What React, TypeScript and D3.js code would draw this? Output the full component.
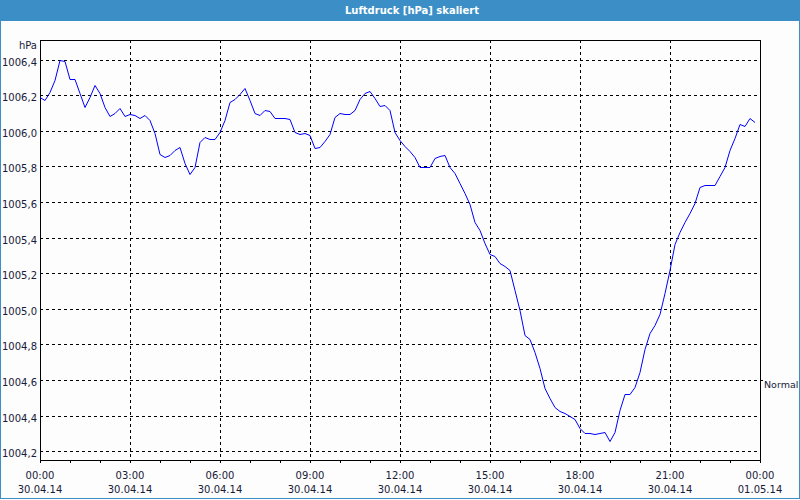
import React from "react";
import * as d3 from "d3";

const TITLE = "Luftdruck [hPa] skaliert";
const UNIT = "hPa";
const START = new Date(2014, 3, 30, 0, 0);
const END = new Date(2014, 4, 1, 0, 0);
const STEP_MIN = 10;
const NORMAL_VALUE = 1004.6;
const NORMAL_LABEL = "Normal";
const Y_TICKS = [1004.2, 1004.4, 1004.6, 1004.8, 1005.0, 1005.2, 1005.4, 1005.6, 1005.8, 1006.0, 1006.2, 1006.4];
const PRESSURE = [
  1006.191, 1006.173, 1006.220, 1006.285, 1006.398, 1006.394, 1006.291, 1006.289, 1006.211, 1006.134,
  1006.191, 1006.257, 1006.211, 1006.135, 1006.085, 1006.098, 1006.130, 1006.083, 1006.094, 1006.087,
  1006.073, 1006.089, 1006.060, 1005.987, 1005.869, 1005.851, 1005.864, 1005.892, 1005.907, 1005.817,
  1005.757, 1005.796, 1005.937, 1005.967, 1005.952, 1005.952, 1005.995, 1006.060, 1006.162, 1006.177,
  1006.205, 1006.243, 1006.173, 1006.100, 1006.086, 1006.117, 1006.111, 1006.072, 1006.072, 1006.070,
  1006.068, 1005.991, 1005.982, 1005.989, 1005.976, 1005.905, 1005.910, 1005.944, 1005.982, 1006.079,
  1006.098, 1006.094, 1006.094, 1006.117, 1006.177, 1006.214, 1006.225, 1006.182, 1006.139, 1006.143,
  1006.117, 1005.995, 1005.948, 1005.917, 1005.886, 1005.851, 1005.798, 1005.795, 1005.795, 1005.847,
  1005.857, 1005.862, 1005.798, 1005.761, 1005.705, 1005.649, 1005.589, 1005.489, 1005.442, 1005.368,
  1005.310, 1005.295, 1005.259, 1005.240, 1005.218, 1005.105, 1004.993, 1004.852, 1004.828, 1004.759,
  1004.665, 1004.553, 1004.497, 1004.446, 1004.427, 1004.412, 1004.397, 1004.382, 1004.328, 1004.300,
  1004.302, 1004.298, 1004.303, 1004.307, 1004.257, 1004.309, 1004.431, 1004.519, 1004.519, 1004.558,
  1004.644, 1004.771, 1004.861, 1004.911, 1004.970, 1005.091, 1005.218, 1005.364, 1005.433, 1005.489,
  1005.536, 1005.592, 1005.682, 1005.695, 1005.693, 1005.693, 1005.746, 1005.798, 1005.892, 1005.958,
  1006.038, 1006.027, 1006.070, 1006.048,
];

const W = 800;
const H = 500;
const M = { left: 40, right: 760, top: 40, bottom: 460 };
const FONT = "'DejaVu Sans', Tahoma, sans-serif";
const TEXT = "#1a1a3a";

export default function App() {
  const x = d3.scaleTime().domain([START, END]).range([M.left, M.right]);
  const y = d3.scaleLinear().domain([1004.15, 1006.51]).range([M.bottom, M.top]);
  const data = PRESSURE.map((v, i) => ({ t: d3.timeMinute.offset(START, i * STEP_MIN), v }));
  const line = d3.line<{ t: Date; v: number }>().x((d) => x(d.t)).y((d) => Math.round(y(d.v)) + 0.5);
  const majors = d3.timeHour.every(3)!.range(START, d3.timeMinute.offset(END, 1));
  const minors = d3.timeHour.every(1)!.range(START, d3.timeMinute.offset(END, 1));
  const fmtT = d3.timeFormat("%H:%M");
  const fmtD = d3.timeFormat("%d.%m.%y");
  const fmtY = (v: number) => v.toFixed(1).replace(".", ",");
  const px = (v: number) => Math.round(v) + 0.5;

  return (
    <svg width={W} height={H} style={{ position: "fixed", left: 0, top: 0, display: "block" }} fontFamily={FONT}>
      <rect x={0} y={0} width={W} height={H} fill="#fcfdfc" />
      <rect x={0.5} y={0.5} width={W - 1} height={H - 2} fill="none" stroke="#3c8fc6" />
      <rect x={0} y={0} width={W} height={21} fill="#3c8fc6" />
      <text x={412} y={14} textAnchor="middle" fill="#fff" fontWeight="bold" fontSize={10.5} textLength={134} lengthAdjust="spacingAndGlyphs">{TITLE}</text>

      {Y_TICKS.map((v) => (
        <g key={v}>
          <line x1={M.left} x2={M.right} y1={px(y(v))} y2={px(y(v))} stroke="#000" strokeDasharray="3,3" shapeRendering="crispEdges" />
          <text x={37} y={px(y(v)) + 5} textAnchor="end" fontSize={10} fill={TEXT}>{fmtY(v)}</text>
        </g>
      ))}
      {majors.slice(1, -1).map((t) => (
        <line key={+t} x1={px(x(t))} x2={px(x(t))} y1={M.top} y2={M.bottom} stroke="#000" strokeDasharray="3,3" shapeRendering="crispEdges" />
      ))}
      {minors.map((t) => (
        <line key={+t} x1={px(x(t))} x2={px(x(t))} y1={M.bottom} y2={M.bottom + 3} stroke="#000" shapeRendering="crispEdges" />
      ))}
      {majors.map((t) => (
        <g key={+t} fontSize={10} fill={TEXT} textAnchor="middle">
          <text x={x(t)} y={479}>{fmtT(t)}</text>
          <text x={x(t)} y={493}>{fmtD(t)}</text>
        </g>
      ))}
      <rect x={M.left + 0.5} y={M.top + 0.5} width={M.right - M.left} height={M.bottom - M.top} fill="none" stroke="#000" shapeRendering="crispEdges" />
      <text x={37} y={49} textAnchor="end" fontSize={10} fill={TEXT}>{UNIT}</text>

      <line x1={M.right} x2={M.right + 3} y1={px(y(NORMAL_VALUE))} y2={px(y(NORMAL_VALUE))} stroke="#000" shapeRendering="crispEdges" />
      <text x={764} y={px(y(NORMAL_VALUE)) + 7} fontSize={9.5} fill={TEXT}>{NORMAL_LABEL}</text>

      <path d={line(data) || ""} fill="none" stroke="#0000ff" strokeWidth={1} />
    </svg>
  );
}
